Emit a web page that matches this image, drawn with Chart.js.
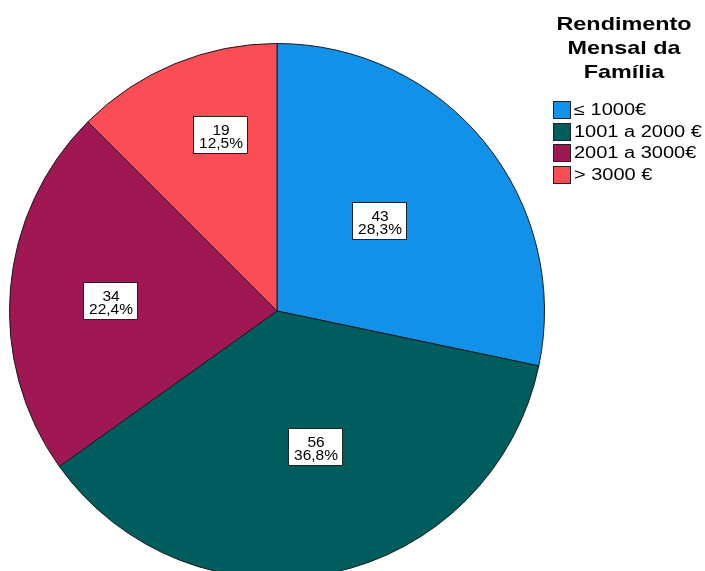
<!DOCTYPE html>
<html>
<head>
<meta charset="utf-8">
<script src="https://cdn.jsdelivr.net/npm/chart.js@4"></script>
<style>
  html, body { margin: 0; padding: 0; background: #fff; overflow: hidden; }
  #wrap { width: 705px; height: 571px; overflow: hidden; position: relative; }
</style>
</head>
<body>
<div id="wrap"><canvas id="pieChart" width="705" height="580"></canvas></div>
<script>
// données
const categories = ['≤ 1000€', '1001 a 2000 €', '2001 a 3000€', '> 3000 €'];
const counts = [43, 56, 34, 19];
const legendTitle = ['Rendimento', 'Mensal da', 'Família'];

const colors = ['#1192e8', '#005d5d', '#9f1853', '#fa4d56'];

// décalage des étiquettes : [angle en degrés, fraction du rayon]
const labelPlacement = [[-2.6, 0.51], [-3.8, 0.524], [-0.8, 0.626], [4.8, 0.695]];

const FONT = '"Liberation Sans", Arial, sans-serif';

/**
 * Étiquettes blanches (effectif + pourcentage) au centre des secteurs
 */
const sliceLabels = {
    id: 'sliceLabels',
    afterDatasetsDraw(chart) {
        const ctx = chart.ctx;
        const meta = chart.getDatasetMeta(0);
        const values = chart.data.datasets[0].data;
        const total = values.reduce((a, b) => a + b, 0);
        meta.data.forEach((arc, i) => {
            const p = arc.getProps(['x', 'y', 'startAngle', 'endAngle', 'outerRadius'], true);
            const place = labelPlacement[i];
            const mid = (p.startAngle + p.endAngle) / 2 + place[0] * Math.PI / 180;
            const r = p.outerRadius * place[1];
            const cx = Math.round(p.x + Math.cos(mid) * r);
            const cy = Math.round(p.y + Math.sin(mid) * r);
            const w = 54, h = 37;
            ctx.save();
            ctx.fillStyle = '#fff';
            ctx.fillRect(cx - w / 2 + 0.5, cy - 18 + 0.5, w, h);
            ctx.strokeStyle = '#222';
            ctx.lineWidth = 1;
            ctx.strokeRect(cx - w / 2 + 0.5, cy - 18 + 0.5, w, h);
            ctx.fillStyle = '#000';
            ctx.font = '15.5px ' + FONT;
            ctx.textAlign = 'center';
            ctx.textBaseline = 'alphabetic';
            const pct = (values[i] / total * 100).toFixed(1).replace('.', ',') + '%';
            ctx.fillText(String(values[i]), cx + 1, cy + 1);
            ctx.fillText(pct, cx + 1, cy + 14);
            ctx.restore();
        });
    }
};

/**
 * Légende à droite avec titre sur trois lignes
 */
const sideLegend = {
    id: 'sideLegend',
    afterDraw(chart) {
        const ctx = chart.ctx;
        const labels = chart.data.labels;
        const bg = chart.data.datasets[0].backgroundColor;
        ctx.save();
        ctx.fillStyle = '#000';
        ctx.textAlign = 'center';
        ctx.font = 'bold 19px ' + FONT;
        legendTitle.forEach((line, i) => {
            ctx.save();
            ctx.translate(624, 30 + i * 24);
            ctx.scale(1.23, 1);
            ctx.fillText(line, 0, 0);
            ctx.restore();
        });
        ctx.textAlign = 'left';
        ctx.textBaseline = 'middle';
        ctx.font = '16px ' + FONT;
        labels.forEach((lab, i) => {
            const y = Math.round(110 + i * 21.5);
            ctx.fillStyle = bg[i];
            ctx.fillRect(553.5, y - 8.5, 17, 17);
            ctx.strokeStyle = '#222';
            ctx.lineWidth = 1;
            ctx.strokeRect(553.5, y - 8.5, 17, 17);
            ctx.fillStyle = '#000';
            ctx.save();
            ctx.translate(574, y + 1);
            ctx.scale(1.25, 1);
            ctx.fillText(lab, 0, 0);
            ctx.restore();
        });
        ctx.restore();
    }
};

function initPieChart() {
    const el = document.getElementById('pieChart');
    new Chart(el.getContext('2d'), {
        type: 'pie',
        data: {
            labels: categories,
            datasets: [{
                data: counts,
                backgroundColor: colors,
                borderColor: '#1a1a1a',
                borderWidth: 1
            }]
        },
        options: {
            responsive: false,
            animation: false,
            layout: {
                padding: { left: 9, top: 43, right: 160, bottom: 1 }
            },
            plugins: {
                legend: { display: false },
                tooltip: { enabled: false }
            }
        },
        plugins: [sliceLabels, sideLegend]
    });
}

initPieChart();
</script>
</body>
</html>
